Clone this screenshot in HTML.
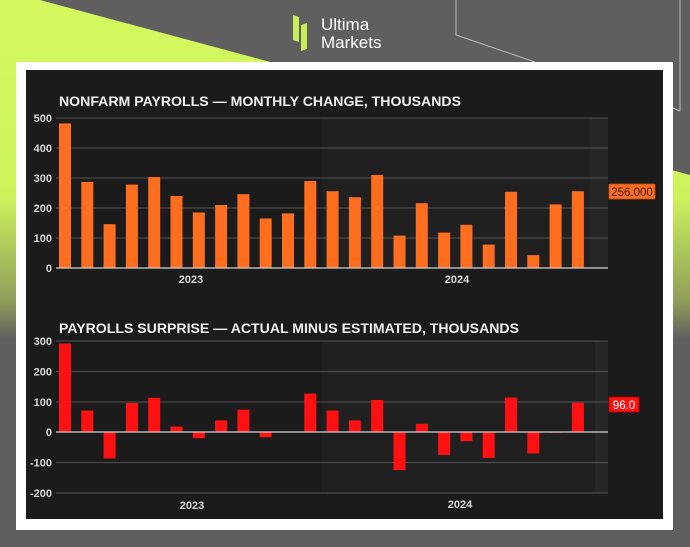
<!DOCTYPE html>
<html><head><meta charset="utf-8"><style>
html,body{margin:0;padding:0;width:690px;height:547px;overflow:hidden;background:#5f5f5f}
svg{display:block}
text{font-family:"Liberation Sans",sans-serif}
</style></head><body>
<svg width="690" height="547" viewBox="0 0 690 547" xmlns="http://www.w3.org/2000/svg">
<defs>
<linearGradient id="lg" x1="0" y1="0" x2="0" y2="1" gradientUnits="objectBoundingBox">
<stop offset="0" stop-color="#d4f95e"/>
<stop offset="0.36" stop-color="#cdf35c"/>
<stop offset="0.55" stop-color="#8e9e5a"/>
<stop offset="0.62" stop-color="#5f5f5f"/>
<stop offset="1" stop-color="#5f5f5f"/>
</linearGradient>
</defs>
<rect width="690" height="547" fill="#5f5f5f"/>
<polygon points="0,0 40,0 690,175 690,547 0,547" fill="url(#lg)"/>
<polyline points="456,0 456,35 535,62" fill="none" stroke="#bdbdbd" stroke-width="1"/>
<polyline points="680,0 680,111 673,108" fill="none" stroke="#bdbdbd" stroke-width="1"/>
<!-- logo -->
<polygon points="293,15 299,17 299,42 293,40" fill="#c8ee5a"/>
<polygon points="301,25 307,23 307,49 301,51" fill="#c8ee5a"/>
<text x="321" y="30" font-size="17" fill="#fff">Ultima</text>
<text x="321" y="48" font-size="17" fill="#fff">Markets</text>
<!-- frame -->
<rect x="16" y="62" width="657" height="468" fill="#fff"/>
<rect x="26" y="70" width="637" height="449" fill="#1b1b1c"/>
<!-- top chart -->
<rect x="322" y="118" width="286" height="150" fill="#202021"/>
<rect x="590" y="118" width="18" height="150" fill="#262627"/>
<text x="59" y="106" font-size="13.5" font-weight="bold" fill="#f0f0f0" textLength="402" lengthAdjust="spacingAndGlyphs">NONFARM PAYROLLS — MONTHLY CHANGE, THOUSANDS</text>
<g stroke="#4a4a4a" stroke-width="1.3">
<line x1="56" y1="118" x2="608" y2="118"/><line x1="56" y1="148" x2="608" y2="148"/><line x1="56" y1="178" x2="608" y2="178"/><line x1="56" y1="208" x2="608" y2="208"/><line x1="56" y1="238" x2="608" y2="238"/>
</g>
<g font-size="11" font-weight="bold" fill="#d8d8d8" text-anchor="end">
<text x="52" y="122">500</text><text x="52" y="152">400</text><text x="52" y="182">300</text><text x="52" y="212">200</text><text x="52" y="242">100</text><text x="52" y="272">0</text>
</g>
<g fill="#ff6d1f">
<rect x="59" y="123.4" width="12" height="144.6"/>
<rect x="81.3" y="181.9" width="12" height="86.1"/>
<rect x="103.6" y="224.2" width="12" height="43.8"/>
<rect x="125.9" y="184.6" width="12" height="83.4"/>
<rect x="148.2" y="177.1" width="12" height="90.9"/>
<rect x="170.5" y="196" width="12" height="72"/>
<rect x="192.8" y="212.5" width="12" height="55.5"/>
<rect x="215.1" y="205" width="12" height="63"/>
<rect x="237.4" y="194.2" width="12" height="73.8"/>
<rect x="259.7" y="218.5" width="12" height="49.5"/>
<rect x="282" y="213.4" width="12" height="54.6"/>
<rect x="304.3" y="181" width="12" height="87"/>
<rect x="326.6" y="191.2" width="12" height="76.8"/>
<rect x="348.9" y="197.2" width="12" height="70.8"/>
<rect x="371.2" y="175" width="12" height="93"/>
<rect x="393.5" y="235.6" width="12" height="32.4"/>
<rect x="415.8" y="203.2" width="12" height="64.8"/>
<rect x="438.1" y="232.6" width="12" height="35.4"/>
<rect x="460.4" y="224.8" width="12" height="43.2"/>
<rect x="482.7" y="244.6" width="12" height="23.4"/>
<rect x="505" y="191.8" width="12" height="76.2"/>
<rect x="527.3" y="255.1" width="12" height="12.9"/>
<rect x="549.6" y="204.4" width="12" height="63.6"/>
<rect x="571.9" y="191.2" width="12" height="76.8"/>
</g>
<line x1="56" y1="268" x2="608" y2="268" stroke="#cfcfcf" stroke-width="1.3"/>
<g font-size="11" font-weight="bold" fill="#d8d8d8" text-anchor="middle">
<text x="191" y="283">2023</text><text x="457" y="283">2024</text>
</g>
<rect x="609" y="184" width="46" height="15" fill="#ff6d1f" stroke="#b84a10" stroke-width="0.8"/>
<text x="632" y="196" font-size="11.5" fill="#3a1a05" text-anchor="middle">256.000</text>
<!-- bottom chart -->
<rect x="322" y="341" width="286" height="152" fill="#202021"/>
<rect x="595" y="341" width="13" height="152" fill="#262627"/>
<text x="59" y="333" font-size="13.5" font-weight="bold" fill="#f0f0f0" textLength="460" lengthAdjust="spacingAndGlyphs">PAYROLLS SURPRISE — ACTUAL MINUS ESTIMATED, THOUSANDS</text>
<g stroke="#4a4a4a" stroke-width="1.3">
<line x1="56" y1="341" x2="608" y2="341"/><line x1="56" y1="371.5" x2="608" y2="371.5"/><line x1="56" y1="402" x2="608" y2="402"/><line x1="56" y1="462.5" x2="608" y2="462.5"/><line x1="56" y1="493" x2="608" y2="493"/>
</g>
<g font-size="11" font-weight="bold" fill="#d8d8d8" text-anchor="end">
<text x="52" y="345">300</text><text x="52" y="375.5">200</text><text x="52" y="406">100</text><text x="52" y="436">0</text><text x="52" y="466.5">-100</text><text x="52" y="497">-200</text>
</g>
<g fill="#ff1111">
<rect x="59" y="343.5" width="12" height="88.5"/>
<rect x="81.3" y="410.6" width="12" height="21.4"/>
<rect x="103.6" y="432" width="12" height="26.5"/>
<rect x="125.9" y="403" width="12" height="29"/>
<rect x="148.2" y="397.8" width="12" height="34.2"/>
<rect x="170.5" y="426.5" width="12" height="5.5"/>
<rect x="192.8" y="432" width="12" height="6.1"/>
<rect x="215.1" y="420.4" width="12" height="11.6"/>
<rect x="237.4" y="409.7" width="12" height="22.3"/>
<rect x="259.7" y="432" width="12" height="5.2"/>
<rect x="304.3" y="393.6" width="12" height="38.4"/>
<rect x="326.6" y="410.6" width="12" height="21.4"/>
<rect x="348.9" y="420.4" width="12" height="11.6"/>
<rect x="371.2" y="400" width="12" height="32"/>
<rect x="393.5" y="432" width="12" height="38.1"/>
<rect x="415.8" y="423.8" width="12" height="8.2"/>
<rect x="438.1" y="432" width="12" height="22.9"/>
<rect x="460.4" y="432" width="12" height="9.2"/>
<rect x="482.7" y="432" width="12" height="25.9"/>
<rect x="505" y="397.5" width="12" height="34.5"/>
<rect x="527.3" y="432" width="12" height="21.4"/>
<rect x="549.6" y="432" width="12" height="0.8"/>
<rect x="571.9" y="402.7" width="12" height="29.3"/>
</g>
<line x1="56" y1="432" x2="608" y2="432" stroke="#cfcfcf" stroke-width="1.3"/>
<g font-size="11" font-weight="bold" fill="#d8d8d8" text-anchor="middle">
<text x="192" y="509">2023</text><text x="460" y="508">2024</text>
</g>
<rect x="609" y="397" width="30" height="15" fill="#ff1111" stroke="#a00" stroke-width="0.8"/>
<text x="624" y="409" font-size="11.5" fill="#fff" text-anchor="middle">96.0</text>
</svg>
</body></html>
